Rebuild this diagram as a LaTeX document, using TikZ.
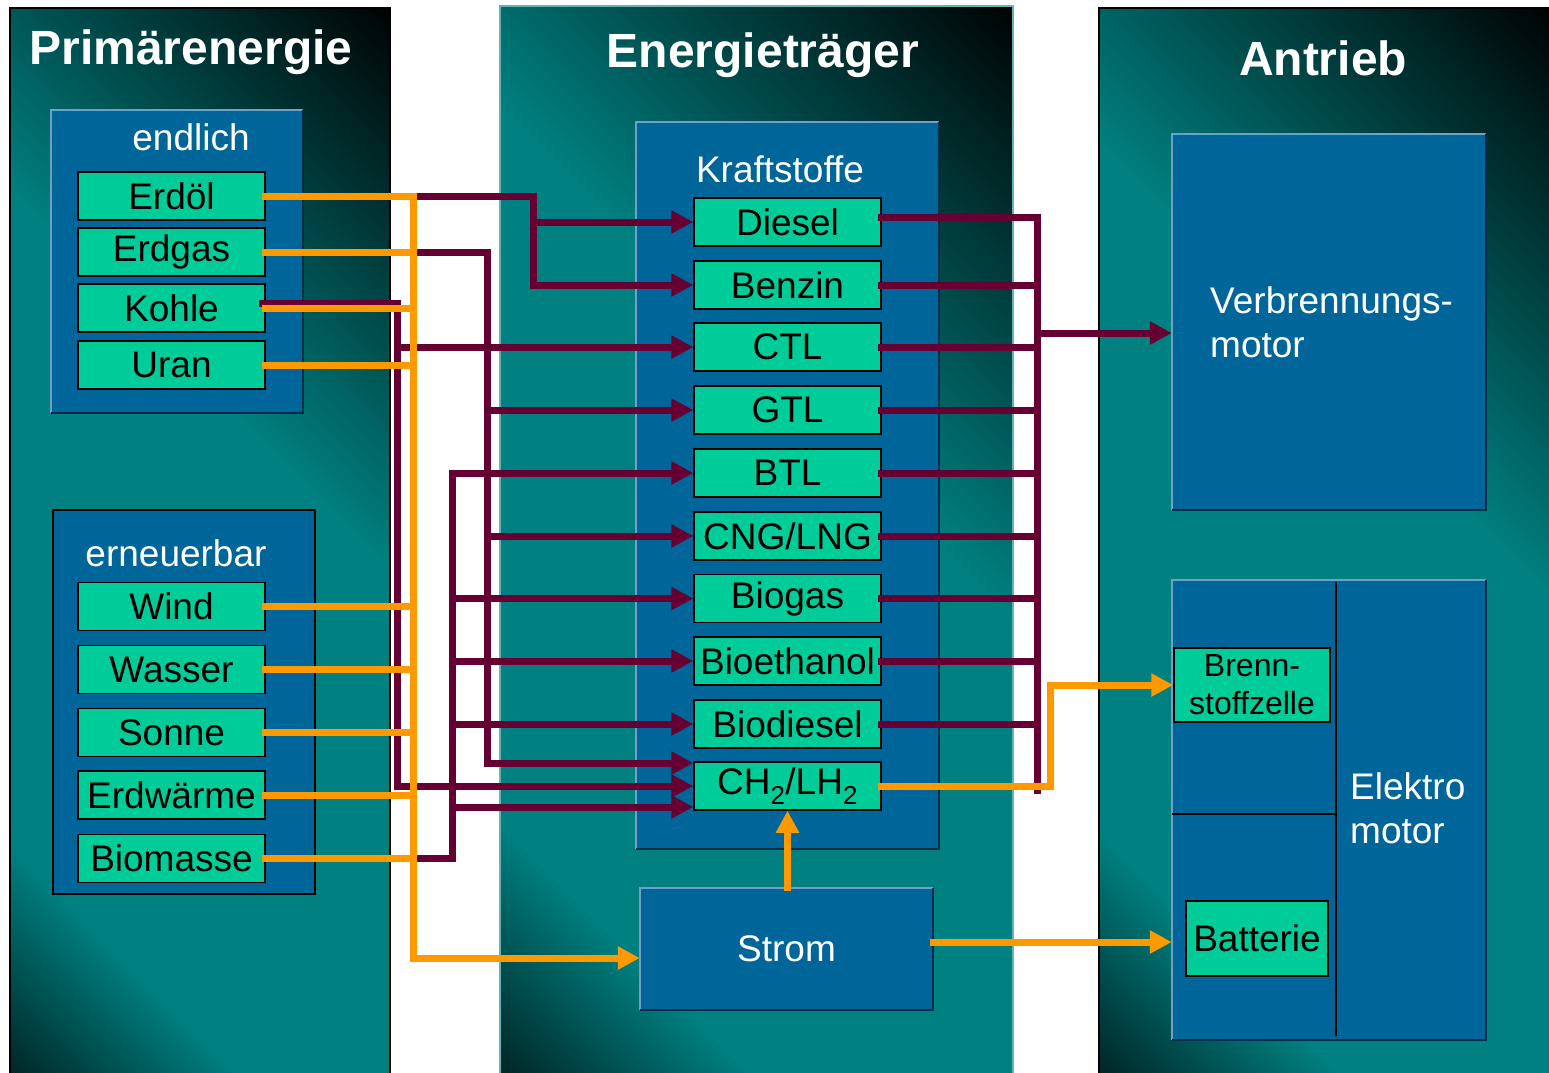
\documentclass[tikz,border=0pt]{standalone}
\usepackage{fontspec}
\setmainfont{Liberation Sans}
\usetikzlibrary{arrows.meta,calc}
\definecolor{tealc}{RGB}{0,128,128}
\definecolor{boxblue}{RGB}{0,102,153}
\definecolor{boxgreen}{RGB}{0,204,153}
\definecolor{wine}{RGB}{102,0,51}
\definecolor{orng}{RGB}{255,153,0}
\definecolor{hlc}{RGB}{110,160,200}
\definecolor{shc}{RGB}{0,45,75}
\pgfdeclarehorizontalshading{panelsh}{100bp}{color(0bp)=(black); color(14bp)=(black!75!tealc); color(26bp)=(tealc); color(58bp)=(tealc); color(86bp)=(black); color(100bp)=(black)}
\tikzset{
  panel/.style={shading=panelsh, shading angle=45, line width=1.5pt},
  gbox/.style={draw=black, line width=1.5pt, fill=boxgreen, minimum width=187pt, minimum height=48pt, inner sep=0pt, font=\fontsize{37}{40}\selectfont, text=black},
  bbox/.style={fill=boxblue, inner sep=0pt},
  ttl/.style={text=white, font=\fontsize{48}{52}\selectfont\bfseries},
  wl/.style={text=white, font=\fontsize{37}{44}\selectfont, inner sep=0pt},
  hl/.style={draw=hlc, line width=2.5pt},
  sh/.style={draw=shc, line width=2.5pt},
  wire/.style={draw=wine, line width=7pt, line cap=rect},
  oline/.style={draw=orng, line width=7pt, line cap=rect},
  arr/.style={-{Triangle[length=22pt,width=22pt]}},
}
\begin{document}
\begin{tikzpicture}[x=1pt,y=-1pt]
\path[use as bounding box, fill=white] (0,0) rectangle (1549,1072);
\begin{scope}
\clip (0,0) rectangle (1549,1072);
\path[panel, draw=black] (10,8) rectangle (390,1080);
\path[panel, draw=tealc!60!white] (500,6) rectangle (1013,1080);
\path[panel, draw=black] (1099,8) rectangle (1552,1080);
\end{scope}
% titles
\node[ttl] (t1) at (191,52) {Primärenergie};
\node[ttl] (t2) at (763,55) {Energieträger};
\node[ttl] (t3) at (1323,58) {Antrieb};
% blue boxes
\node[bbox, minimum width=252pt, minimum height=303pt] (endl) at (177,261.5) {};
\node[bbox, draw=black, line width=1.5pt, minimum width=262pt, minimum height=384pt] (ern) at (184,702) {};
\node[bbox, minimum width=303pt, minimum height=727pt] (kraft) at (787.5,485.5) {};
\node[bbox, minimum width=293pt, minimum height=122pt, text=white, font=\fontsize{37}{44}\selectfont] (strom) at (786.5,949) {Strom};
\node[bbox, minimum width=314pt, minimum height=376pt] (vm) at (1329,322) {};
\node[bbox, minimum width=314pt, minimum height=460pt] (em) at (1329,810) {};
\foreach \n in {endl,kraft,strom,vm,em}{
  \draw[hl] (\n.south west) -- (\n.north west) -- (\n.north east);
  \draw[sh] (\n.north east) -- (\n.south east) -- (\n.south west);
}
\node[wl] (endlT) at (191,137) {endlich};
\node[wl] (ernT) at (176,553) {erneuerbar};
\node[wl] (kraftT) at (780,169) {Kraftstoffe};
\node[wl, align=left, anchor=west] (vmT) at (1210,322) {Verbrennungs-\\motor};
\node[wl, align=left, anchor=west] (emT) at (1350,808) {Elektro\\motor};
\coordinate (emdiv) at (1336,814);
\draw[black, line width=2pt] ($(emdiv |- em.north)+(0,2)$) -- ($(emdiv |- em.south)+(0,-4)$);
\draw[black, line width=2pt] (em.west |- emdiv) -- (emdiv);
\node[gbox, minimum width=156pt, minimum height=74pt, font=\fontsize{32}{38}\selectfont, align=center] (bz) at (1252,685) {Brenn-\\stoffzelle};
\node[gbox, minimum width=142pt, minimum height=75pt] (batt) at (1257,938.5) {Batterie};
% primary
\node[gbox] (oel) at (171.5,196) {Erdöl};
\node[gbox] (gas) at (171.5,252) {Erdgas};
\node[gbox] (kohle) at (171.5,308) {Kohle};
\node[gbox] (uran) at (171.5,365) {Uran};
\node[gbox] (wind) at (171.5,606.5) {Wind};
\node[gbox] (wasser) at (171.5,669.5) {Wasser};
\node[gbox] (sonne) at (171.5,732.5) {Sonne};
\node[gbox] (erdw) at (171.5,795) {Erdwärme};
\node[gbox] (bio) at (171.5,858.5) {Biomasse};
% fuels
\node[gbox] (diesel) at (787.5,222) {Diesel};
\node[gbox] (benzin) at (787.5,285) {Benzin};
\node[gbox] (ctl) at (787.5,347) {CTL};
\node[gbox] (gtl) at (787.5,410) {GTL};
\node[gbox] (btl) at (787.5,473) {BTL};
\node[gbox] (cng) at (787.5,536) {CNG/LNG};
\node[gbox] (biogas) at (787.5,598.5) {Biogas};
\node[gbox] (bioeth) at (787.5,661) {Bioethanol};
\node[gbox] (biodie) at (787.5,724) {Biodiesel};
\node[gbox] (ch2) at (787.5,786) {CH\textsubscript{2}/LH\textsubscript{2}};
% bus coordinates
\coordinate (ob) at (413,958);
\coordinate (eo) at (533,0);
\coordinate (eg) at (487,0);
\coordinate (ek) at (397,0);
\coordinate (eb) at (452,0);
\coordinate (rb) at (1037,333);
\coordinate (rz) at (1050,0);
\coordinate (ch2a) at ($(ch2.west)+(0,-23)$);
\coordinate (ch2c) at ($(ch2.west)+(0,21)$);
\coordinate (kstart) at ($(kohle.east)+(-3,-5)$);
\coordinate (sb) at ($(strom.east)+(0,-7)$);
\coordinate (dR) at ($(diesel.east)+(0,-5)$);
% wine connectors: Erdöl
\draw[wire] (ob |- oel.east) -- (eo |- oel.east) -- (eo |- benzin.west);
\draw[wire,arr] (eo |- diesel.west) -- (diesel.west);
\draw[wire,arr] (eo |- benzin.west) -- (benzin.west);
% Erdgas
\draw[wire] (ob |- gas.east) -- (eg |- gas.east) -- (eg |- ch2a);
\draw[wire,arr] (eg |- gtl.west) -- (gtl.west);
\draw[wire,arr] (eg |- cng.west) -- (cng.west);
\draw[wire,arr] (eg |- ch2a) -- (ch2a);
% Kohle
\draw[wire] (kstart) -- (ek |- kstart) -- (ek |- ch2.west);
\draw[wire,arr] (ek |- ctl.west) -- (ctl.west);
\draw[wire,arr] (ek |- ch2.west) -- (ch2.west);
% Biomasse
\draw[wire] (ob |- bio.east) -- (eb |- bio.east) -- (eb |- btl.west);
\draw[wire,arr] (eb |- btl.west) -- (btl.west);
\draw[wire,arr] (eb |- biogas.west) -- (biogas.west);
\draw[wire,arr] (eb |- bioeth.west) -- (bioeth.west);
\draw[wire,arr] (eb |- biodie.west) -- (biodie.west);
\draw[wire,arr] (eb |- ch2c) -- (ch2c);
% right side bus
\draw[wire] (rb |- dR) -- ($(rb |- ch2.east)+(0,4)$);
\draw[wire] (dR) -- (rb |- dR);
\foreach \n in {benzin,ctl,gtl,btl,cng,biogas,bioeth,biodie,ch2}{
  \draw[wire] (\n.east) -- (rb |- \n.east);
}
\draw[wire,arr] (rb) -- (vm.west |- rb);
% orange connectors
\foreach \n in {gas,kohle,uran,wind,wasser,sonne,erdw,bio}{
  \draw[oline] (\n.east) -- (ob |- \n.east);
}
\draw[oline,arr] (oel.east) -- (ob |- oel.east) -- (ob) -- (strom.west |- ob);
\draw[oline,arr] (ch2.south |- strom.north) -- (ch2.south);
\draw[oline,arr] (ch2.east) -- (rz |- ch2.east) -- (rz |- bz.west) -- (bz.west);
\draw[oline,arr] (sb) -- (em.west |- sb);
\end{tikzpicture}
\end{document}
